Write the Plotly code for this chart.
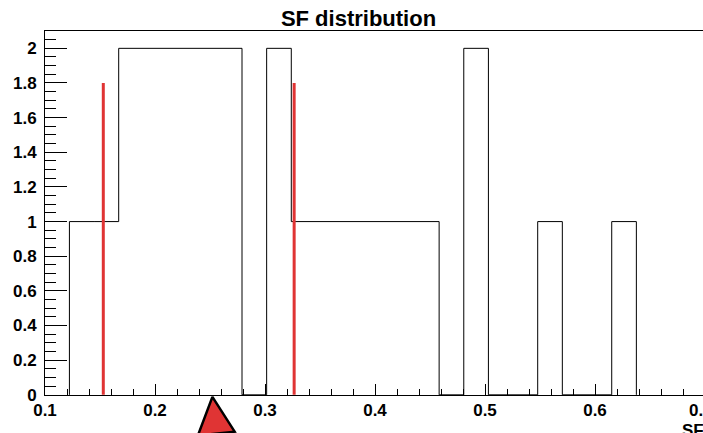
import plotly.graph_objects as go

# ---- data ----
bin_edges = [0.1222, 0.1446, 0.1670, 0.1894, 0.2118, 0.2342, 0.2567, 0.2791,
             0.3015, 0.3239, 0.3463, 0.3687, 0.3911, 0.4135, 0.4359, 0.4583,
             0.4807, 0.5031, 0.5255, 0.5479, 0.5703, 0.5927, 0.6152, 0.6376]
bin_counts = [1, 1, 2, 2, 2, 2, 2, 0, 2, 1, 1, 1, 1, 1, 1, 0, 2, 0, 0, 1, 0, 0, 1]
red_line_x = [0.153, 0.3265]
red_line_h = [1.8, 1.8]
arrow_x = [0.252]
arrow_y = [0.0]
x_tick_vals = [0.1, 0.2, 0.3, 0.4, 0.5, 0.6]
x_tick_text = ["0.1", "0.2", "0.3", "0.4", "0.5", "0.6"]
y_tick_vals = [0, 0.2, 0.4, 0.6, 0.8, 1, 1.2, 1.4, 1.6, 1.8, 2]
y_tick_text = ["0", "0.2", "0.4", "0.6", "0.8", "1", "1.2", "1.4", "1.6", "1.8", "2"]
last_x_label = "0.7"
last_x_val = 0.7
title_text = "SF distribution"
x_title = "SF"

W, H = 703, 433
ML, MT, MB = 45, 31, 38
px_per_unit = 1100.0
x0 = 0.1
x1 = x0 + (W - ML) / px_per_unit
y_range = [-0.001, 2.1]

FONT = "Liberation Sans, Arial, Helvetica, sans-serif"
TS = 17

# histogram outline
hx, hy = [bin_edges[0]], [0]
for i, c in enumerate(bin_counts):
    hx += [bin_edges[i], bin_edges[i + 1]]
    hy += [c, c]
hx.append(bin_edges[-1])
hy.append(0)

rx, ry = [], []
for xv, h in zip(red_line_x, red_line_h):
    rx += [xv, xv, None]
    ry += [0, h, None]

fig = go.Figure()
fig.add_trace(go.Scatter(x=hx, y=hy, mode="lines",
                         line=dict(color="black", width=1), hoverinfo="skip"))
fig.add_trace(go.Scatter(x=rx, y=ry, mode="lines",
                         line=dict(color="#e03434", width=3), hoverinfo="skip"))
fig.add_trace(go.Scatter(x=arrow_x, y=arrow_y, mode="markers", cliponaxis=False,
                         marker=dict(symbol="arrow-up", size=37, angle=-6,
                                     standoff=2,
                                     color="#e03434",
                                     line=dict(color="black", width=2.5)),
                         hoverinfo="skip"))

fig.update_layout(
    width=W, height=H,
    margin=dict(l=ML, r=0, t=MT, b=MB, pad=0),
    paper_bgcolor="white", plot_bgcolor="white",
    showlegend=False,
    font=dict(family=FONT, color="black", size=TS, weight="bold"),
    title=dict(text=title_text, x=358.5 / W, xref="container", xanchor="center",
               y=1 - 18.5 / H, yref="container", yanchor="middle",
               font=dict(family=FONT, size=22, color="black", weight="bold")),
    xaxis=dict(range=[x0, x1], showgrid=False, zeroline=False,
               showline=True, linecolor="black", linewidth=1, mirror=True,
               ticks="inside", ticklen=11, tickcolor="black", tickwidth=1,
               tickvals=x_tick_vals, ticktext=x_tick_text,
               tickfont=dict(family=FONT, size=TS, color="black", weight="bold"),
               minor=dict(ticks="inside", dtick=0.02, tick0=0, ticklen=6,
                          tickcolor="black", tickwidth=1)),
    yaxis=dict(range=y_range, showgrid=False, zeroline=False,
               showline=True, linecolor="black", linewidth=1, mirror=False,
               ticks="inside", ticklen=22, tickcolor="black", tickwidth=1,
               tickvals=y_tick_vals, ticktext=y_tick_text,
               ticklabelstandoff=4,
               tickfont=dict(family=FONT, size=TS, color="black", weight="bold"),
               minor=dict(ticks="inside", dtick=0.05, tick0=0, ticklen=11,
                          tickcolor="black", tickwidth=1)),
)

xp = (last_x_val - x0) / (x1 - x0)
fig.add_annotation(text=last_x_label, x=xp, xref="paper", y=0, yref="paper",
                   xanchor="center", yanchor="top", yshift=-4, xshift=-4,
                   showarrow=False,
                   font=dict(family=FONT, size=TS, color="black", weight="bold"))
fig.add_annotation(text=x_title, x=xp, xref="paper", y=0, yref="paper",
                   xanchor="right", yanchor="top", yshift=-24, xshift=1,
                   showarrow=False,
                   font=dict(family=FONT, size=TS, color="black", weight="bold"))

fig.write_html("out.html")
